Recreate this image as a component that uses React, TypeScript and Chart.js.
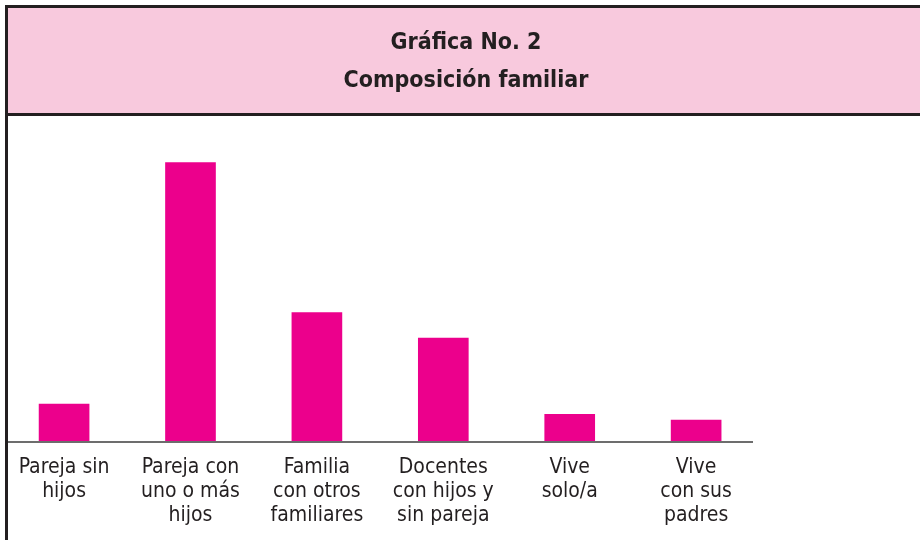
import React, { useEffect, useRef } from "react";
import { Chart, registerables } from "chart.js";

Chart.register(...registerables);

const titleLines = ["Gráfica No. 2", "Composición familiar"];
const categories: string[][] = [
  ["Pareja sin", "hijos"],
  ["Pareja con", "uno o más", "hijos"],
  ["Familia", "con otros", "familiares"],
  ["Docentes", "con hijos y", "sin pareja"],
  ["Vive", "solo/a"],
  ["Vive", "con sus", "padres"],
];
const percentages = [6.2, 46.8, 21.6, 17.3, 4.5, 3.5];

const FONT = "'DejaVu Sans Condensed', 'Liberation Sans Narrow', sans-serif";
const PINK_BAND = "#F8C9DD";
const BAR = "#EC008C";
const DARK = "#231F20";

const framePlugin = {
  id: "frame",
  beforeDraw(chart: any) {
    const { ctx, width, height } = chart;
    ctx.save();
    ctx.fillStyle = "#ffffff";
    ctx.fillRect(0, 0, width, height);
    ctx.fillStyle = PINK_BAND;
    ctx.fillRect(5, 5, width - 5, 110);
    ctx.strokeStyle = DARK;
    ctx.lineWidth = 3;
    ctx.beginPath();
    ctx.moveTo(5, 6.5);
    ctx.lineTo(width, 6.5);
    ctx.moveTo(6.5, 5);
    ctx.lineTo(6.5, height);
    ctx.moveTo(5, 114.5);
    ctx.lineTo(width, 114.5);
    ctx.stroke();
    ctx.restore();
  },
  beforeDatasetsDraw(chart: any) {
    const { ctx } = chart;
    const y = chart.scales.y.getPixelForValue(0);
    ctx.save();
    ctx.strokeStyle = "#6d6d6d";
    ctx.lineWidth = 2;
    ctx.beginPath();
    ctx.moveTo(8, y + 1);
    ctx.lineTo(753, y + 1);
    ctx.stroke();
    ctx.restore();
  },
};

export default function App() {
  const ref = useRef<HTMLCanvasElement | null>(null);
  useEffect(() => {
    if (!ref.current) return;
    const chart = new Chart(ref.current, {
      type: "bar",
      data: {
        datasets: [
          {
            data: percentages.map((v, i) => ({ x: i, y: v })),
            backgroundColor: BAR,
            borderWidth: 0,
            barThickness: 50,
          },
        ],
      },
      options: {
        animation: false,
        responsive: false,
        layout: { padding: { left: 12, right: 0, top: 0, bottom: 0 } },
        plugins: {
          legend: { display: false },
          tooltip: { enabled: false },
          title: {
            display: true,
            text: titleLines,
            color: DARK,
            font: { family: FONT, size: 23, weight: "bold", lineHeight: 1.61 },
            padding: { top: 25, bottom: 44.5 },
          },
        },
        scales: {
          x: {
            type: "linear",
            offset: false,
            min: -0.412,
            max: 6.771,
            grid: { display: false, drawTicks: false },
            border: { display: false },
            afterBuildTicks: (scale: any) => {
              scale.ticks = categories.map((_, i) => ({ value: i }));
            },
            afterFit: (scale: any) => {
              scale.height = 99;
            },
            ticks: {
              autoSkip: false,
              maxRotation: 0,
              minRotation: 0,
              padding: 14,
              color: DARK,
              font: { family: FONT, size: 21, lineHeight: 1.15 },
              callback: (v: any) => categories[v as number] ?? "",
            },
          },
          y: {
            display: false,
            min: 0,
            max: 50,
          },
        },
      },
      plugins: [framePlugin],
    } as any);
    return () => chart.destroy();
  }, []);
  return (
    <div style={{ position: "fixed", left: 0, top: 0, width: 920, height: 540 }}>
      <canvas ref={ref} width={920} height={540} style={{ width: 920, height: 540, display: "block" }} />
    </div>
  );
}
